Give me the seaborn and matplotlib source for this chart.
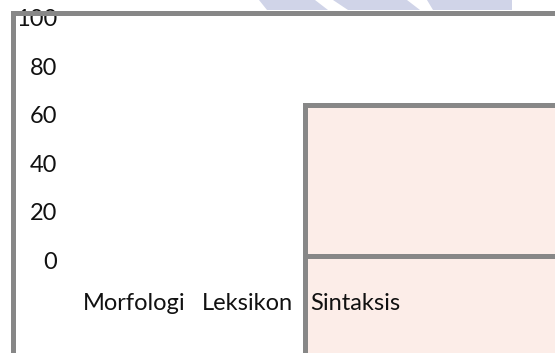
"""Recreate the cropped Morfologi / Leksikon / Sintaksis bar chart."""
import matplotlib

matplotlib.use("Agg")
import matplotlib.pyplot as plt
import matplotlib.transforms as mtransforms
import pandas as pd
import seaborn as sns
from matplotlib.patches import Polygon

# --- data -------------------------------------------------------------------
categories = ["Morfologi", "Leksikon", "Sintaksis"]
bar_category = ["Sintaksis", "Sintaksis"]
bar_segment = ["upper", "lower"]
bar_value = [62.5, -45.0]
y_ticks = [0, 20, 40, 60, 80, 100]

# --- style ------------------------------------------------------------------
W, H, DPI = 555, 353, 100
FRAME = "#878787"
PINK = "#FCEDE8"
MARK = "#D0D4E8"
LW = 3.6
FS = 17

sns.set_theme(style="white")
plt.rcParams["font.family"] = ["Lato", "DejaVu Sans"]

df = pd.DataFrame({"category": bar_category, "segment": bar_segment, "value": bar_value})

fig = plt.figure(figsize=(W / DPI, H / DPI), dpi=DPI)
ax = fig.add_axes([12.5 / W, 0, 1 - 12.5 / W, 1 - 12.5 / H])

for seg in ["upper", "lower"]:
    sns.barplot(
        data=df[df["segment"] == seg], x="category", y="value", order=categories,
        color=PINK, saturation=1, width=0.8, edgecolor=FRAME, linewidth=LW,
        errorbar=None, ax=ax,
    )

ax.set_xlim(0.778, 2.3)
ax.set_ylim(-39.8, 100.6)
ax.set_xticks([])
ax.set_yticks([])
ax.set_xlabel("")
ax.set_ylabel("")

for side in ["right", "bottom"]:
    ax.spines[side].set_visible(False)
for side in ["left", "top"]:
    ax.spines[side].set_color(FRAME)
    ax.spines[side].set_linewidth(LW)
    ax.spines[side].set_capstyle("projecting")
    ax.spines[side].set_zorder(5)

# y labels: right edge ~44 px right of the frame, baseline a little below the tick
ylab_tr = ax.get_yaxis_transform() + mtransforms.ScaledTranslation(
    44.5 / DPI, -12.5 / DPI, fig.dpi_scale_trans)
for v in y_ticks:
    ax.text(0, v, str(v), transform=ylab_tr, ha="right", va="baseline",
            fontsize=FS, color="#111111", zorder=1, clip_on=False)

# category labels sit in one row inside the plot
label_x_px = [83, 202, 310]
label_base_px = 310
for name, px in zip(categories, label_x_px):
    fig.text(px / W, 1 - label_base_px / H, name, ha="left", va="baseline",
             fontsize=FS, color="#111111", zorder=6)

# faint watermark fragment above the frame
stripes = [
    [(259, 0), (315, 0), (328, 10), (267, 10)],
    [(333, 0), (407, 0), (420, 10), (348, 10)],
    [(427, 0), (512, 0), (512, 10), (433, 10)],
]
for pts in stripes:
    fig.patches.append(Polygon([(x / W, 1 - y / H) for x, y in pts], closed=True,
                               transform=fig.transFigure, facecolor=MARK,
                               edgecolor="none", zorder=0))

fig.savefig("out.png", dpi=DPI)
